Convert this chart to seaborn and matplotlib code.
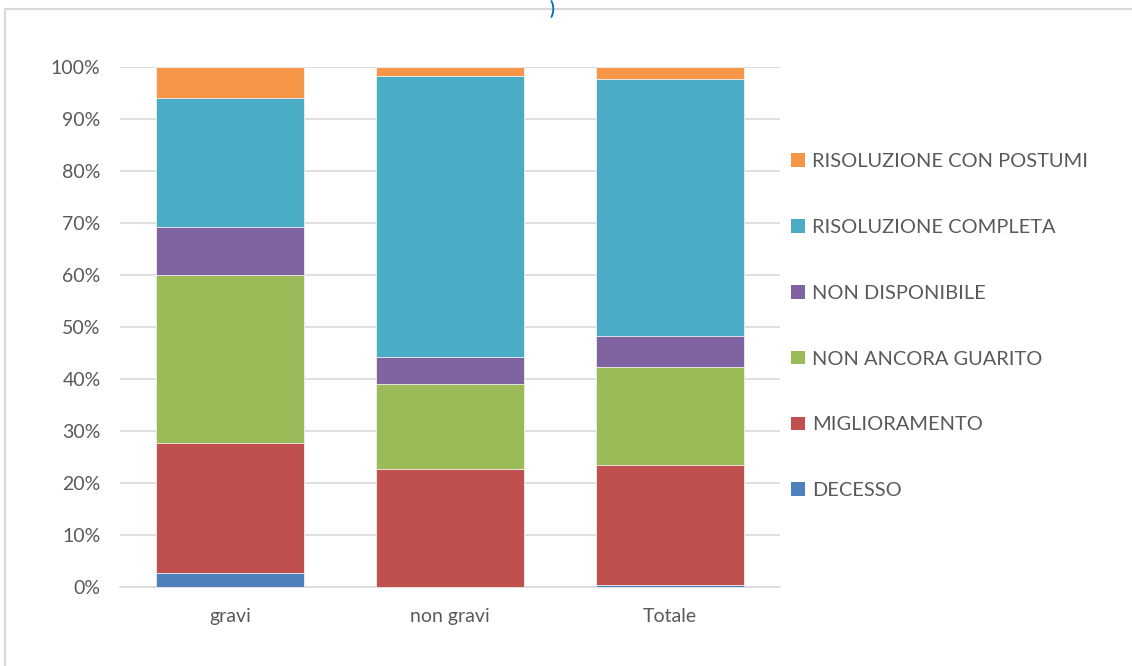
import numpy as np
import pandas as pd
import matplotlib
matplotlib.use("Agg")
import matplotlib.pyplot as plt
import seaborn as sns
from matplotlib.patches import Rectangle, Patch
from matplotlib.ticker import PercentFormatter

# Outcome distribution (percent of cases) per group
groups = ["gravi", "non gravi", "Totale"]
outcomes = ["DECESSO", "MIGLIORAMENTO", "NON ANCORA GUARITO",
            "NON DISPONIBILE", "RISOLUZIONE COMPLETA", "RISOLUZIONE CON POSTUMI"]
decesso = [2.6, 0.0, 0.4]
miglioramento = [25.1, 22.7, 23.1]
non_ancora_guarito = [32.3, 16.3, 18.8]
non_disponibile = [9.2, 5.3, 6.0]
risoluzione_completa = [24.9, 54.0, 49.3]
risoluzione_postumi = [5.9, 1.7, 2.4]

colors = ["#4f81bd", "#c0504d", "#9bbb59", "#8064a2", "#4bacc6", "#f79646"]

series = [decesso, miglioramento, non_ancora_guarito, non_disponibile,
          risoluzione_completa, risoluzione_postumi]
df = pd.DataFrame({name: vals for name, vals in zip(outcomes, series)}, index=groups)
cum = df.cumsum(axis=1)

sns.set_style("white")
plt.rcParams["font.family"] = ["Lato", "DejaVu Sans"]

fig = plt.figure(figsize=(11.32, 6.66), dpi=100)
ax = fig.add_axes([0.106, 0.1186, 0.583, 0.7808])

# stacked bars: draw cumulative totals from the top segment down
for name, col in reversed(list(zip(outcomes, colors))):
    data = pd.DataFrame({"gruppo": groups, "valore": cum[name].values})
    sns.barplot(data=data, x="gruppo", y="valore", color=col, width=0.67,
                edgecolor="#f2f2f2", linewidth=0.6, saturation=1, ax=ax, zorder=3)

ax.set_ylim(0, 100)
ax.set_xlim(-0.5, 2.5)
ax.set_yticks(np.arange(0, 101, 10))
ax.yaxis.set_major_formatter(PercentFormatter(decimals=0))
ax.grid(axis="y", color="#d9d9d9", linewidth=1.2, zorder=0)
ax.set_axisbelow(True)
for s in ["top", "right", "left"]:
    ax.spines[s].set_visible(False)
ax.spines["bottom"].set_color("#d9d9d9")
ax.spines["bottom"].set_linewidth(1.2)
ax.set_xlabel("")
ax.set_ylabel("")
ax.tick_params(axis="both", length=0, labelsize=14, colors="#595959")
ax.tick_params(axis="y", pad=14)
ax.tick_params(axis="x", pad=15)

handles = [Patch(facecolor=c, edgecolor="none") for c in colors]
leg = fig.legend(handles[::-1], outcomes[::-1], loc="upper left",
                 bbox_to_anchor=(0.692, 0.782), frameon=False, fontsize=14.4,
                 labelcolor="#595959", labelspacing=2.44, handlelength=0.68,
                 handleheight=0.68, handletextpad=0.35, borderaxespad=0)

# outer chart frame
fig.patches.append(Rectangle((0.0045, -0.05), 1.2, 1.037, transform=fig.transFigure,
                             fill=False, edgecolor="#d9d9d9", linewidth=1.5))
# chart title tail at the top edge
fig.text(0.488, 1.0, ")", ha="center", va="top", fontsize=13,
         fontweight="bold", color="#0070c0")

fig.savefig("out.png", dpi=100)
